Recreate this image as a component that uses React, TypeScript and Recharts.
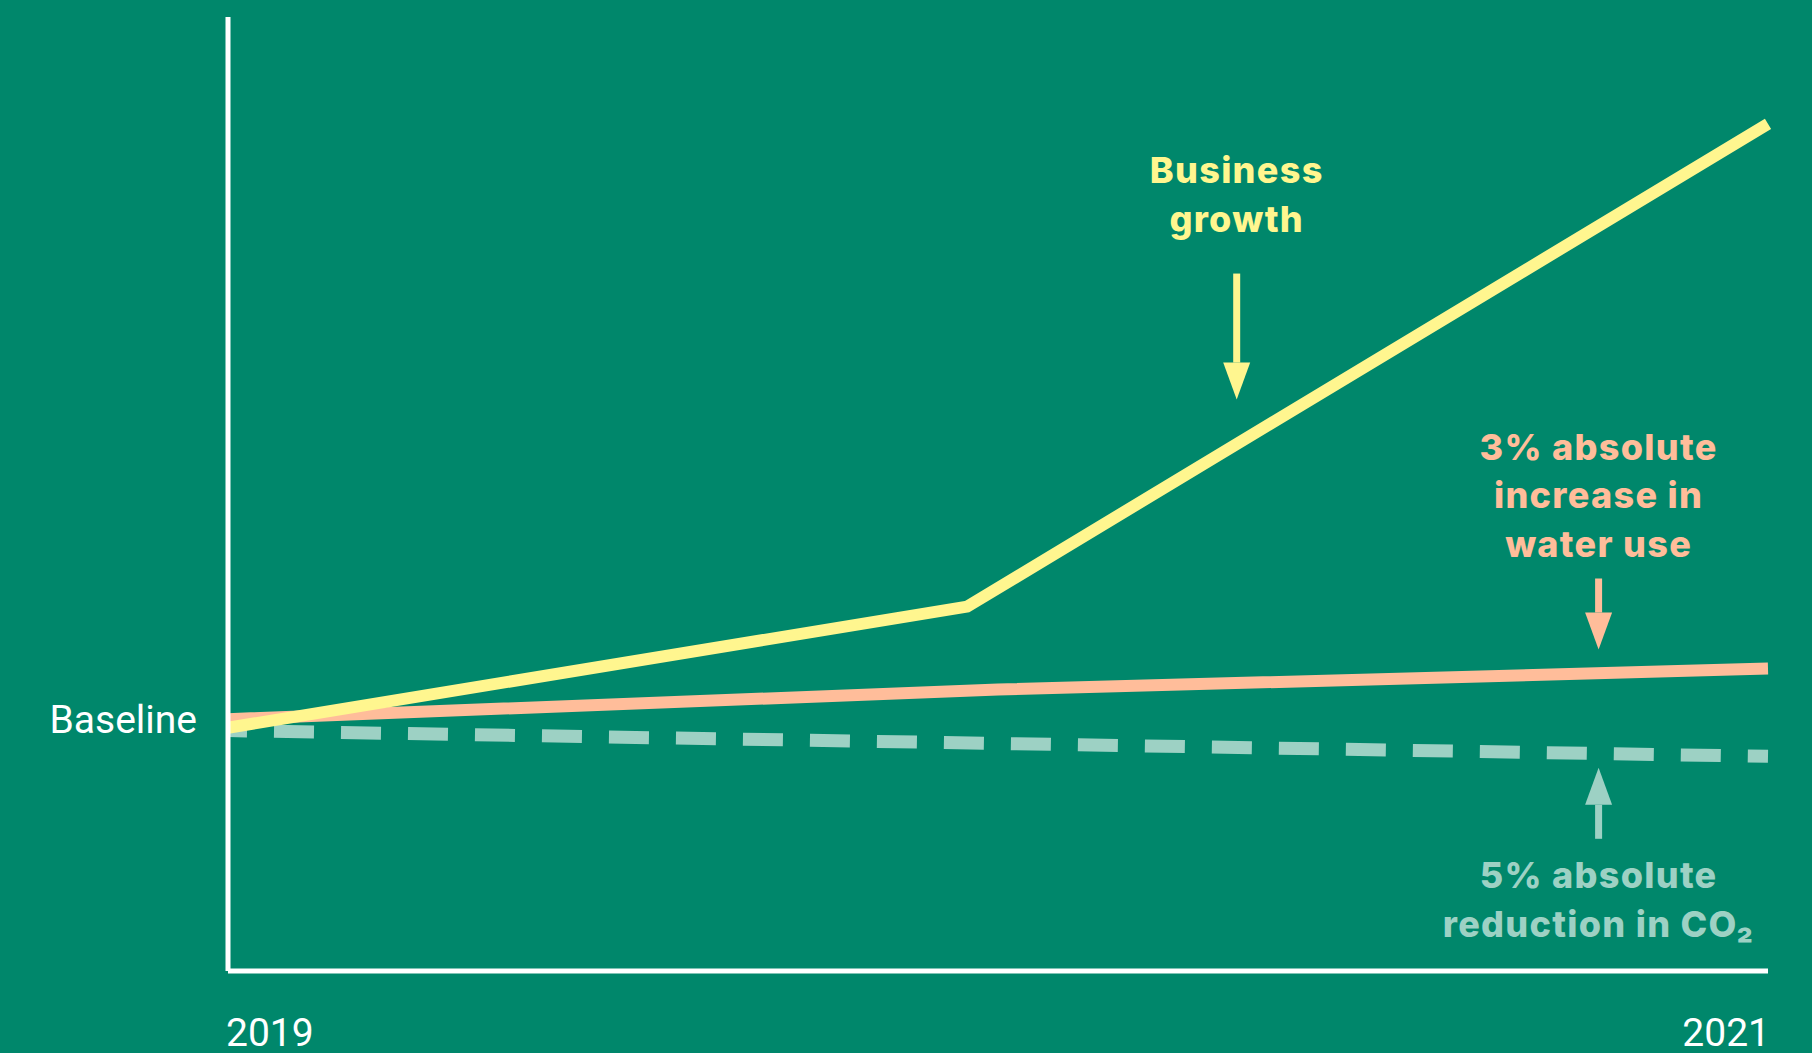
import React from "react";
import { LineChart, Line, XAxis, YAxis, ReferenceDot } from "recharts";

// years on the x axis, index values (baseline ~26) on a hidden 0-100 scale
const YEARS = [2019, 2021];
const BASELINE = 26;

const growthX = [2019, 2019.96, 2021];
const growthY = [25.5, 38.2, 88.8];
const waterX = [2019, 2020, 2021];
const waterY = [26.4, 29.5, 31.7];
const co2X = [2019, 2021];
const co2Y = [25.2, 22.5];

// annotation anchors (arrow tips) and their text
const NOTE_X = [2020.31, 2020.78, 2020.78];
const NOTE_Y = [59.9, 33.7, 21.3];
const NOTE_LINES = [
  ["Business", "growth"],
  ["3% absolute", "increase in", "water use"],
  ["5% absolute", "reduction in CO₂"],
];

const BG = "#00876b";
const YELLOW = "#fff68f";
const SALMON = "#ffbd9a";
const TEAL = "#9dd1c4";
const NOTE_COLORS = [YELLOW, SALMON, TEAL];
const NOTE_DIR = [-1, -1, 1]; // -1 arrow points down, 1 points up
const NOTE_SHAFT = [126, 71, 71];
const NOTE_TEXT_START = [168, 93, 120];

const toPts = (xs: number[], ys: number[]) => xs.map((x, i) => ({ x, y: ys[i] }));
const growth = toPts(growthX, growthY);
const water = toPts(waterX, waterY);
const co2 = toPts(co2X, co2Y);

const noteFont = "Inter, 'Noto Sans', sans-serif";
const axisFont = "Roboto, 'Noto Sans', sans-serif";

function Note(i: number) {
  return (p: any) => {
    const { cx, cy } = p;
    const dir = NOTE_DIR[i];
    const c = NOTE_COLORS[i];
    const head = 37;
    const lines = NOTE_LINES[i];
    const shaftEnd = cy + dir * NOTE_SHAFT[i];
    const headEnd = cy + dir * head;
    const baselines =
      dir < 0
        ? lines.map((_, k) => cy - NOTE_TEXT_START[i] - (lines.length - 1 - k) * 48.5)
        : lines.map((_, k) => cy + NOTE_TEXT_START[i] + k * 49);
    return (
      <g>
        <rect
          x={cx - 3.5}
          y={Math.min(shaftEnd, headEnd)}
          width={7}
          height={Math.abs(shaftEnd - headEnd)}
          fill={c}
        />
        <polygon points={`${cx - 13.5},${headEnd} ${cx + 13.5},${headEnd} ${cx},${cy}`} fill={c} />
        {lines.map((t, k) => (
          <text
            key={k}
            x={cx}
            y={baselines[k]}
            textAnchor="middle"
            fill={c}
            fontFamily={noteFont}
            fontWeight={800}
            fontSize={36}
            letterSpacing={1.3}
          >
            {t}
          </text>
        ))}
      </g>
    );
  };
}

const YearTick = (p: any) => {
  const { x, y, payload } = p;
  const first = payload.value === YEARS[0];
  return (
    <text
      x={first ? x - 2 : x + 2}
      y={y + 67}
      textAnchor={first ? "start" : "end"}
      fill="#ffffff"
      fontFamily={axisFont}
      fontSize={39}
    >
      {payload.value}
    </text>
  );
};

const BaseTick = (p: any) => {
  const { x, y } = p;
  return (
    <text x={x - 23} y={y + 10} textAnchor="end" fill="#ffffff" fontFamily={axisFont} fontSize={39}>
      Baseline
    </text>
  );
};

export default function App() {
  return (
    <div style={{ position: "absolute", left: 0, top: 0, width: 1812, height: 1053, background: BG }}>
      <LineChart width={1812} height={1053} margin={{ top: 17, right: 44, bottom: 0, left: 0 }}>
        <XAxis
          type="number"
          dataKey="x"
          domain={[2019, 2021]}
          ticks={YEARS}
          height={82}
          axisLine={{ stroke: "#ffffff", strokeWidth: 5 }}
          tickLine={false}
          tick={<YearTick />}
          allowDecimals
        />
        <YAxis
          type="number"
          dataKey="y"
          domain={[0, 100]}
          ticks={[BASELINE]}
          width={228}
          axisLine={{ stroke: "#ffffff", strokeWidth: 5 }}
          tickLine={false}
          tick={<BaseTick />}
        />
        <Line
          data={co2}
          dataKey="y"
          type="linear"
          stroke={TEAL}
          strokeWidth={13}
          strokeDasharray="40 27"
          strokeDashoffset={21}
          dot={false}
          activeDot={false}
          isAnimationActive={false}
        />
        <Line
          data={water}
          dataKey="y"
          type="linear"
          stroke={SALMON}
          strokeWidth={12}
          dot={false}
          activeDot={false}
          isAnimationActive={false}
        />
        <Line
          data={growth}
          dataKey="y"
          type="linear"
          stroke={YELLOW}
          strokeWidth={12}
          dot={false}
          activeDot={false}
          isAnimationActive={false}
        />
        {NOTE_X.map((x, i) => (
          <ReferenceDot key={i} x={x} y={NOTE_Y[i]} r={0} shape={Note(i)} />
        ))}
      </LineChart>
    </div>
  );
}
